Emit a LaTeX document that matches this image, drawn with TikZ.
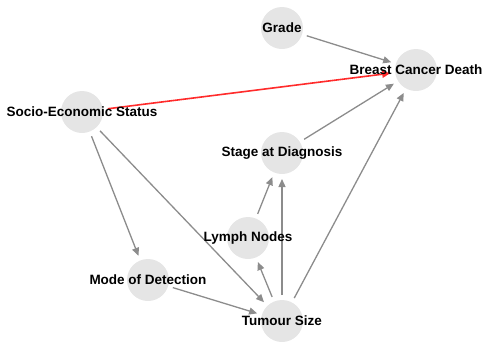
\documentclass[tikz,border=0pt]{standalone}
\usepackage{fontspec}
\setmainfont{Liberation Sans}
\usetikzlibrary{
  arrows.meta % 三角箭头
}
\pgfdeclarelayer{edges}
\pgfsetlayers{edges,main}
\definecolor{nodegray}{HTML}{E5E5E5}
\definecolor{edgegray}{HTML}{8C8C8C}
\definecolor{causalred}{HTML}{FF2B2B}
\tikzset{
  var node/.style={
    circle,
    fill=nodegray,
    minimum size=42pt,
    inner sep=0pt,
    outer sep=5pt
  },
  var label/.style={
    font=\fontsize{13.5}{15}\selectfont\bfseries,
    text=black
  },
  dep edge/.style={
    -{Triangle[length=8pt,width=7pt]},
    line width=1.3pt,
    color=edgegray
  },
  main edge/.style={
    dep edge,
    line width=1.6pt,
    color=causalred
  }
}

\begin{document}
\begin{tikzpicture}[x=1pt, y=-1pt]
  \useasboundingbox (0,0) rectangle (483,341);

  % 1. 变量节点（灰色圆，文字居中）
  \node[var node, label={[var label]center:Grade}] (grade) at (282,28) {};
  \node[var node, label={[var label]center:Breast Cancer Death}] (death) at (416,70) {};
  \node[var node, label={[var label]center:Socio-Economic Status}] (ses) at (82,112) {};
  \node[var node, label={[var label]center:Stage at Diagnosis}] (stage) at (282,153) {};
  \node[var node, label={[var label]center:Lymph Nodes}] (lymph) at (248,238) {};
  \node[var node, label={[var label]center:Mode of Detection}] (mode) at (148,280) {};
  \node[var node, label={[var label]center:Tumour Size}] (tumour) at (282,321) {};

  % 2. 有向边（放在文字下层）
  \begin{pgfonlayer}{edges}
    \draw[dep edge] (grade) -- (death);
    \draw[main edge] (ses) -- (death);
    \draw[dep edge] (stage) -- (death);
    \draw[dep edge] (tumour) -- (death);
    \draw[dep edge] (ses) -- (mode);
    \draw[dep edge] (ses) -- (tumour);
    \draw[dep edge] (mode) -- (tumour);
    \draw[dep edge] (tumour) -- (lymph);
    \draw[dep edge] (tumour) -- (stage);
    \draw[dep edge] (lymph) -- (stage);
  \end{pgfonlayer}
\end{tikzpicture}
\end{document}
